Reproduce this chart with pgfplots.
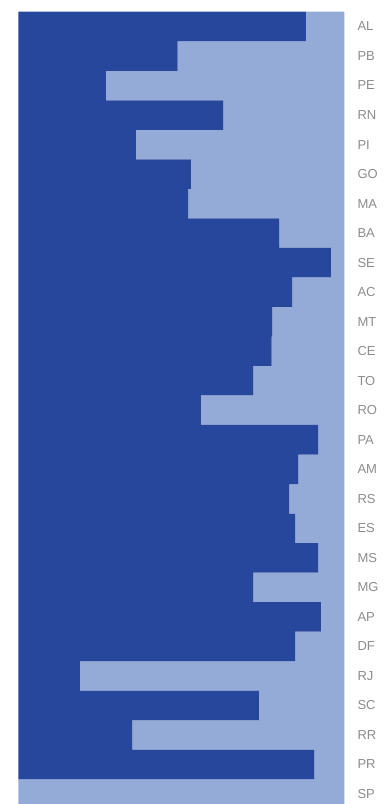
\documentclass[border=0pt]{standalone}
\usepackage{pgfplots}
\pgfplotsset{compat=1.18}
\usepackage{pgfplotstable}
\usepackage{fontspec}
\setmainfont{Liberation Sans}
\definecolor{darkb}{RGB}{38,71,155}
\definecolor{lightb}{RGB}{148,171,216}
\definecolor{labgray}{RGB}{140,140,140}
\pgfplotstableread{
idx dark light
0 88.2 11.8
1 48.9 51.1
2 26.9 73.1
3 62.9 37.1
4 36.1 63.9
5 52.9 47.1
6 52.1 47.9
7 80.1 19.9
8 95.9 4.1
9 84.0 16.0
10 77.9 22.1
11 77.7 22.3
12 72.1 27.9
13 56.0 44.0
14 92.0 8.0
15 85.9 14.1
16 83.1 16.9
17 84.9 15.1
18 92.0 8.0
19 72.1 27.9
20 92.8 7.2
21 84.9 15.1
22 18.9 81.1
23 73.8 26.2
24 35.0 65.0
25 90.8 9.2
26 0.0 100.0
}\datatable
\begin{document}
\begin{tikzpicture}
\begin{axis}[
  at={(0pt,0pt)}, anchor=north west,
  scale only axis, width=326pt, height=792.3pt,
  xbar stacked, bar width=1,
  xmin=0, xmax=100, ymin=-0.5, ymax=26.34, y dir=reverse,
  axis line style={draw=none}, tick style={draw=none},
  xtick=\empty,
  ytick={0,...,26},
  yticklabels={AL,PB,PE,RN,PI,GO,MA,BA,SE,AC,MT,CE,TO,RO,PA,AM,RS,ES,MS,MG,AP,DF,RJ,SC,RR,PR,SP},
  yticklabel pos=right,
  yticklabel style={font=\fontsize{13}{13}\selectfont, text=labgray, anchor=west, inner sep=0pt, xshift=13pt},
  clip=true,
]
\addplot[fill=darkb, draw=none] table[x=dark, y=idx] {\datatable};
\addplot[fill=lightb, draw=none] table[x=light, y=idx] {\datatable};
\end{axis}
\path[use as bounding box] (-18.3pt,11.7pt) rectangle (369.7pt,-792.3pt);
\end{tikzpicture}
\end{document}
